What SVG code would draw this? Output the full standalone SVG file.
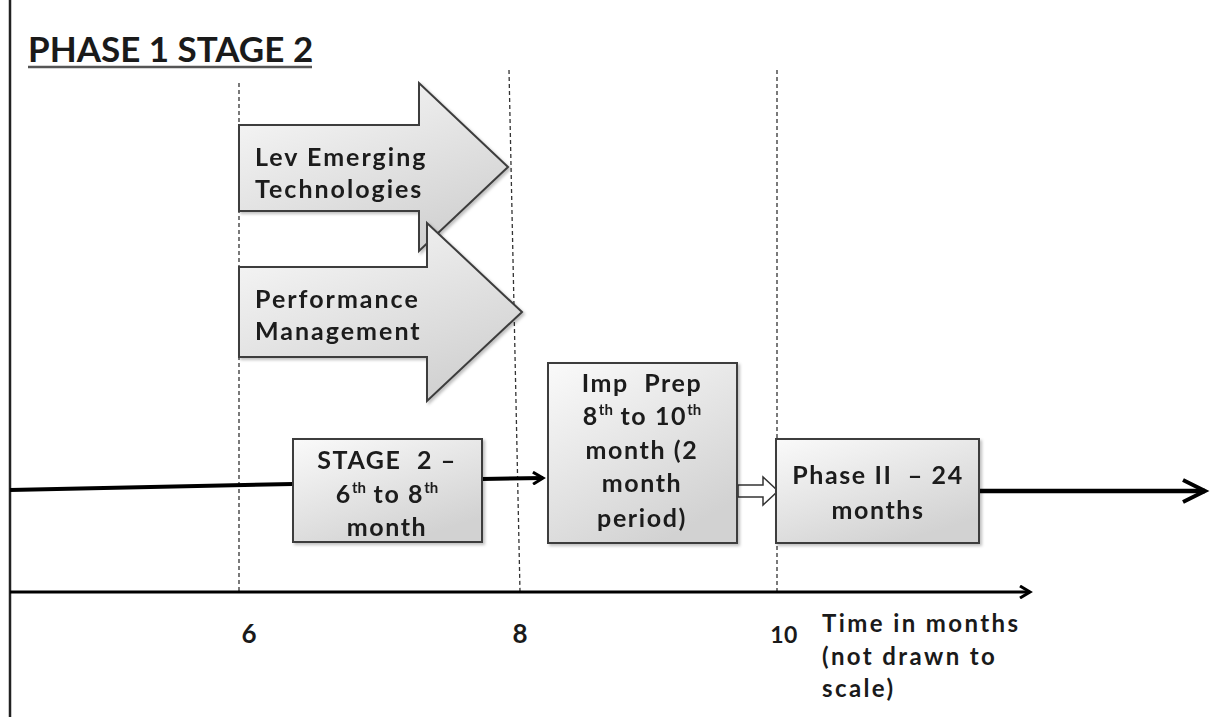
<svg xmlns="http://www.w3.org/2000/svg" width="1218" height="717" viewBox="0 0 1218 717">
<style>
.t{font-family:Lato,"Open Sans","Liberation Sans",sans-serif;font-weight:bold;fill:#1a1a1a;white-space:pre;letter-spacing:1.6px}
.box{fill:url(#g);stroke:#3c3c3c;stroke-width:2}
.dash{stroke:#333;stroke-width:1.3;stroke-dasharray:4 3;fill:none}
.sup{font-size:15px;letter-spacing:0}
</style>
<defs>
<linearGradient id="g" x1="0" y1="0" x2="0.6" y2="1">
<stop offset="0" stop-color="#fafafa"/>
<stop offset="1" stop-color="#d2d2d2"/>
</linearGradient>
<filter id="sh" x="-10%" y="-10%" width="130%" height="130%">
<feDropShadow dx="2" dy="2" stdDeviation="1.5" flood-color="#000" flood-opacity="0.25"/>
</filter>
<marker id="chev" markerWidth="14" markerHeight="14" refX="11" refY="7" orient="auto" markerUnits="userSpaceOnUse">
<path d="M1,1 L11,7 L1,13" fill="none" stroke="#000" stroke-width="3"/>
</marker>
<marker id="chevB" markerWidth="30" markerHeight="30" refX="25" refY="15" orient="auto" markerUnits="userSpaceOnUse">
<path d="M3,4 L25,15 L3,26" fill="none" stroke="#000" stroke-width="4"/>
</marker>
</defs>
<rect width="1218" height="717" fill="#fff"/>
<line x1="10" y1="0" x2="10" y2="717" stroke="#222" stroke-width="2.5"/>
<g id="title">
<text class="t" x="28" y="62" font-size="35" style="letter-spacing:0">PHASE 1 STAGE 2</text>
<line x1="28" y1="67" x2="312" y2="67" stroke="#555" stroke-width="2.5"/>
</g>
<g id="gridlines">
<line class="dash" x1="239" y1="83" x2="239" y2="592"/>
<line class="dash" x1="509" y1="70" x2="520" y2="592"/>
<line class="dash" x1="777" y1="70" x2="777" y2="592"/>
</g>
<g id="arrow-lev" filter="url(#sh)">
<path class="box" d="M239,125 L419,125 L419,83 L508,167 L419,251 L419,211 L239,211 Z"/>
<text class="t" x="255" y="166" font-size="25" style="letter-spacing:2px">Lev Emerging</text>
<text class="t" x="255" y="198" font-size="25" style="letter-spacing:2px">Technologies</text>
</g>
<g id="arrow-perf" filter="url(#sh)">
<path class="box" d="M239,267 L427,267 L427,223 L522,312 L427,401 L427,357 L239,357 Z"/>
<text class="t" x="255" y="308" font-size="25" style="letter-spacing:2px">Performance</text>
<text class="t" x="255" y="340" font-size="25" style="letter-spacing:2px">Management</text>
</g>
<g id="connectors">
<line x1="10" y1="490" x2="293" y2="484" stroke="#000" stroke-width="4"/>
<line x1="482" y1="479" x2="543" y2="478" stroke="#000" stroke-width="4" marker-end="url(#chev)"/>
<path d="M738,485 L763,485 L763,477 L778,491 L763,505 L763,497 L738,497 Z" fill="#fff" stroke="#333" stroke-width="1.5"/>
<line x1="979" y1="491" x2="1205" y2="491" stroke="#000" stroke-width="4.5" marker-end="url(#chevB)"/>
<line x1="10" y1="592" x2="1030" y2="592" stroke="#000" stroke-width="3" marker-end="url(#chev)"/>
</g>
<g id="stage2" filter="url(#sh)">
<rect class="box" x="293" y="439" width="189" height="103"/>
<text class="t" x="387" y="469" font-size="25" text-anchor="middle">STAGE  2 –</text>
<text class="t" x="387" y="503" font-size="25" text-anchor="middle">6<tspan class="sup" dy="-10">th</tspan><tspan dy="10"> to 8</tspan><tspan class="sup" dy="-10">th</tspan></text>
<text class="t" x="387" y="536" font-size="25" text-anchor="middle">month</text>
</g>
<g id="impprep" filter="url(#sh)">
<rect class="box" x="548" y="363" width="189" height="180"/>
<text class="t" x="642" y="392" font-size="25" text-anchor="middle">Imp  Prep</text>
<text class="t" x="642" y="425" font-size="25" text-anchor="middle">8<tspan class="sup" dy="-10">th</tspan><tspan dy="10"> to 10</tspan><tspan class="sup" dy="-10">th</tspan></text>
<text class="t" x="642" y="459" font-size="25" text-anchor="middle">month (2</text>
<text class="t" x="642" y="492" font-size="25" text-anchor="middle">month</text>
<text class="t" x="642" y="527" font-size="25" text-anchor="middle">period)</text>
</g>
<g id="phase2" filter="url(#sh)">
<rect class="box" x="776" y="439" width="203" height="104"/>
<text class="t" x="878" y="484" font-size="25" text-anchor="middle">Phase II  – 24</text>
<text class="t" x="878" y="519" font-size="25" text-anchor="middle">months</text>
</g>
<g id="axis-labels">
<text class="t" x="249" y="643" font-size="26" text-anchor="middle" style="letter-spacing:0">6</text>
<text class="t" x="520" y="643" font-size="26" text-anchor="middle" style="letter-spacing:0">8</text>
<text class="t" x="784" y="643" font-size="23" text-anchor="middle" style="letter-spacing:0.5px">10</text>
<text class="t" x="822" y="632" font-size="24" style="letter-spacing:2.4px">Time in months</text>
<text class="t" x="822" y="665" font-size="24" style="letter-spacing:2.4px">(not drawn to</text>
<text class="t" x="822" y="697" font-size="24" style="letter-spacing:2.4px">scale)</text>
</g>
</svg>
